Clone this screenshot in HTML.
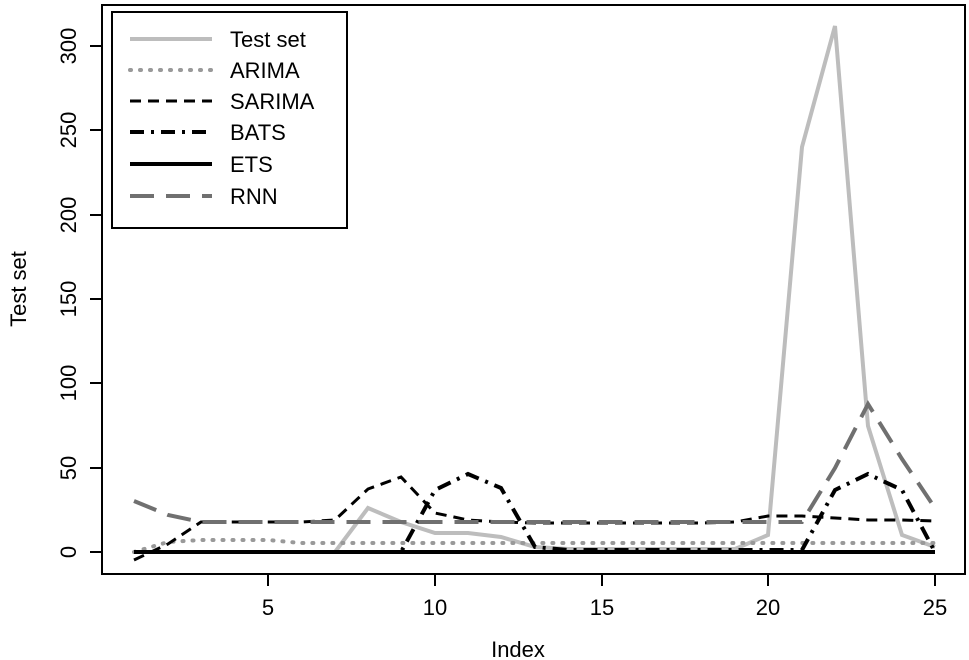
<!DOCTYPE html>
<html><head><meta charset="utf-8"><style>body{margin:0;background:#fff}svg{display:block}text{font-family:"Liberation Sans",sans-serif;fill:#000}</style></head><body>
<svg width="969" height="660" viewBox="0 0 969 660" xmlns="http://www.w3.org/2000/svg">
<rect x="102" y="5" width="863" height="569" fill="none" stroke="#000" stroke-width="2"/>
<g stroke="#000" stroke-width="2">
<line x1="268" y1="574" x2="268" y2="586"/><line x1="435" y1="574" x2="435" y2="586"/><line x1="602" y1="574" x2="602" y2="586"/><line x1="768" y1="574" x2="768" y2="586"/><line x1="935" y1="574" x2="935" y2="586"/>
<line x1="90" y1="552" x2="102" y2="552"/><line x1="90" y1="468" x2="102" y2="468"/><line x1="90" y1="383" x2="102" y2="383"/><line x1="90" y1="299" x2="102" y2="299"/><line x1="90" y1="215" x2="102" y2="215"/><line x1="90" y1="130" x2="102" y2="130"/><line x1="90" y1="46" x2="102" y2="46"/>
</g>
<g font-size="22" text-anchor="middle">
<text x="268" y="615">5</text><text x="435" y="615">10</text><text x="602" y="615">15</text><text x="768" y="615">20</text><text x="935" y="615">25</text>
<text x="518" y="657">Index</text>
<g transform="translate(76,0)">
<text transform="translate(0,552) rotate(-90)">0</text><text transform="translate(0,468) rotate(-90)">50</text><text transform="translate(0,383) rotate(-90)">100</text><text transform="translate(0,299) rotate(-90)">150</text><text transform="translate(0,215) rotate(-90)">200</text><text transform="translate(0,130) rotate(-90)">250</text><text transform="translate(0,46) rotate(-90)">300</text>
</g>
<text transform="translate(26,289) rotate(-90)">Test set</text>
</g>
<g fill="none" stroke-width="4">
<polyline stroke="#bdbdbd" points="134,552 168,552 201,552 234,552 268,552 301,552 335,552 368,508 401,522 435,533 468,533 501,537 535,547 568,549 602,549 635,549 668,549 702,549 735,549 768,535 802,147 835,26 868,426 902,535 935,547"/>
<polyline stroke="#999" stroke-dasharray="1,9" stroke-linecap="round" points="134,552 168,542 201,540 234,540 268,540 301,543 335,543 368,543 401,543 435,543 468,543 501,543 535,543 568,543 602,543 635,543 668,543 702,543 735,543 768,543 802,543 835,543 868,543 902,543 935,543"/>
<polyline stroke="#000" stroke-width="3" stroke-dasharray="11,7" points="134,560 168,544 201,522 234,522 268,522 301,522 335,520 368,489 401,477 435,513 468,520 501,522 535,523 568,523 602,523 635,523 668,523 702,523 735,522 768,516 802,516 835,518 868,520 902,520 935,521"/>
<polyline stroke="#000" stroke-dasharray="14,7,3,7" points="134,552 168,552 201,552 234,552 268,552 301,552 335,552 368,552 401,552 435,490 468,474 501,488 535,547 568,550 602,550 635,550 668,550 702,550 735,550 768,550 802,550 835,490 868,474 902,490 935,552"/>
<polyline stroke="#000" points="134,552 935,552"/>
<polyline stroke="#707070" stroke-dasharray="24,12" points="134,501 168,515 201,522 234,522 268,522 301,522 335,522 368,522 401,522 435,522 468,522 501,522 535,522 568,522 602,522 635,522 668,522 702,522 735,522 768,522 802,522 835,468 868,404 902,459 935,508"/>
</g>
<rect x="112" y="12" width="235" height="216" fill="#fff" stroke="#000" stroke-width="2"/>
<g fill="none" stroke-width="4">
<line x1="130" y1="39" x2="212" y2="39" stroke="#bdbdbd"/>
<line x1="130" y1="70" x2="212" y2="70" stroke="#999" stroke-dasharray="1,9" stroke-linecap="round"/>
<line x1="130" y1="101" x2="212" y2="101" stroke="#000" stroke-width="3" stroke-dasharray="11,7"/>
<line x1="130" y1="132" x2="212" y2="132" stroke="#000" stroke-dasharray="14,7,3,7"/>
<line x1="130" y1="164" x2="212" y2="164" stroke="#000"/>
<line x1="130" y1="196" x2="212" y2="196" stroke="#707070" stroke-dasharray="24,12"/>
</g>
<g font-size="22">
<text x="230" y="47">Test set</text><text x="230" y="78">ARIMA</text><text x="230" y="109">SARIMA</text><text x="230" y="140">BATS</text><text x="230" y="172">ETS</text><text x="230" y="204">RNN</text>
</g>
</svg>
</body></html>
